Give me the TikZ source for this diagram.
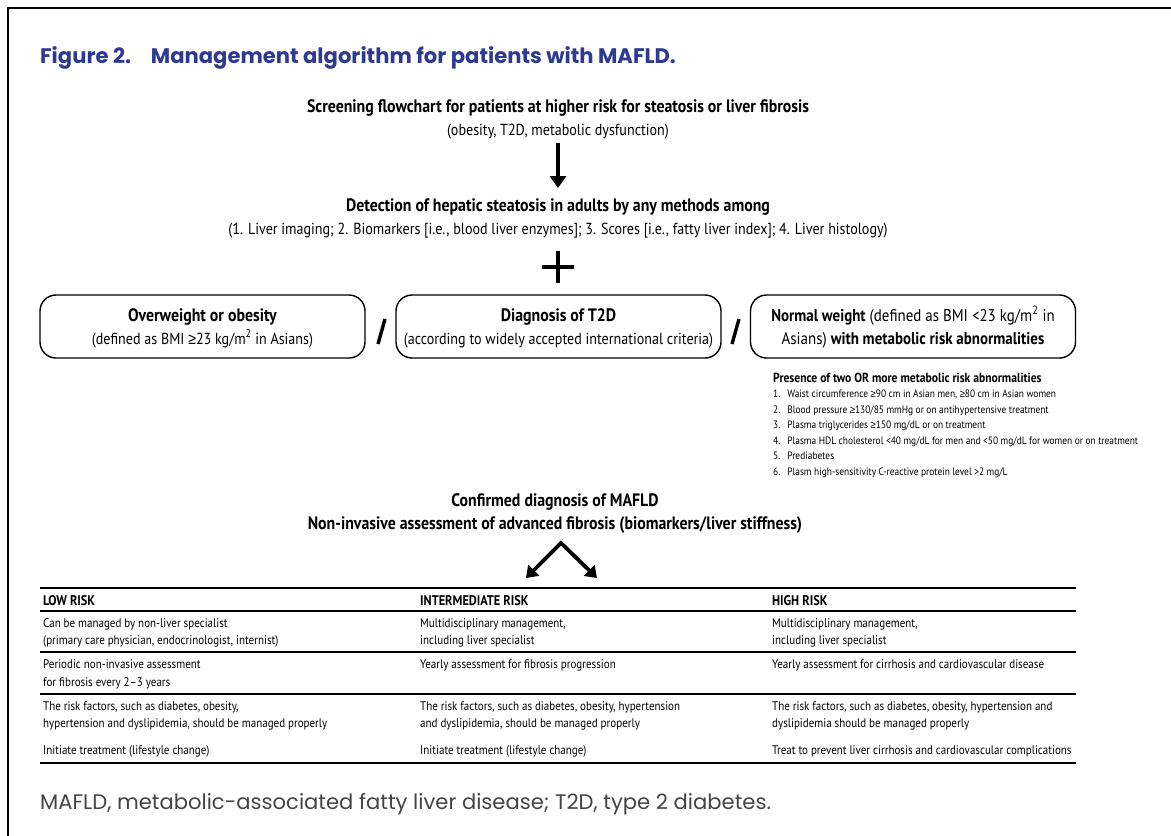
\documentclass[tikz,border=0pt]{standalone}
\usepackage{fontspec}
\usetikzlibrary{arrows.meta}
\setmainfont{PT Sans}[FakeStretch=0.88]
\newfontfamily\pop{Poppins}
\newfontfamily\symfont{Liberation Sans}[FakeStretch=0.88]
\newcommand{\mygeq}{{\symfont\char"2265}}
\definecolor{figblue}{HTML}{2E3A92}
\definecolor{capgray}{HTML}{444444}
\tikzset{
  txt/.style={inner sep=0pt, anchor=base, font=\fontsize{16}{19}\selectfont},
  btxt/.style={txt, font=\fontsize{18}{21}\selectfont\bfseries},
  small/.style={inner sep=0pt, anchor=base west, font=\fontsize{10.7}{13}\selectfont},
  tab/.style={inner sep=0pt, anchor=base west, font=\fontsize{12.5}{15}\selectfont},
  tabh/.style={tab, font=\fontsize{14}{16}\selectfont\bfseries},
  critbox/.style={draw, line width=1.4pt, rounded corners=16pt, minimum width=325pt, minimum height=63pt, inner sep=0pt},
  rule/.style={line width=1.4pt},
  bigarrow/.style={line width=3.6pt, -{Triangle[width=16pt,length=12pt]}},
  thick3/.style={line width=3.8pt},
}
\begin{document}
\begin{tikzpicture}[x=1pt,y=-1pt]
\useasboundingbox (0,0) rectangle (1171,836);
\draw[line width=1.5pt] (8,836) -- (8,8) -- (1171,8);

\node[inner sep=0pt, anchor=base west, font=\pop\fontsize{21.1}{25}\selectfont\bfseries, text=figblue] (title) at (40,63) {Figure 2.\hspace{20pt}Management algorithm for patients with MAFLD.};

\node[btxt] (scr1) at (558,112) {Screening flowchart for patients at higher risk for steatosis or liver fibrosis};
\node[txt] (scr2) at (558,135) {(obesity, T2D, metabolic dysfunction)};

\coordinate (a1s) at (558,143);
\coordinate (a1e) at (558,188);
\draw[bigarrow] (a1s) -- (a1e);

\node[btxt] (det1) at (558,211) {Detection of hepatic steatosis in adults by any methods among};
\node[txt] (det2) at (558,234) {(1. Liver imaging; 2. Biomarkers [i.e., blood liver enzymes]; 3. Scores [i.e., fatty liver index]; 4. Liver histology)};

\coordinate (plus) at (558,267);
\draw[thick3] ([xshift=-16pt]plus) -- ([xshift=16pt]plus);
\draw[thick3] ([yshift=-16pt]plus) -- ([yshift=16pt]plus);

\node[critbox] (b1) at (202.5,326.5) {};
\node[critbox] (b2) at (558.5,326.5) {};
\node[critbox] (b3) at (913,326.5) {};

\node[btxt] (b1t1) at (202.5,321) {Overweight or obesity};
\node[txt] (b1t2) at (202.5,344) {(defined as BMI \mygeq 23 kg/m\textsuperscript{2} in Asians)};
\node[btxt] (b2t1) at (558.5,321) {Diagnosis of T2D};
\node[txt] (b2t2) at (558.5,344) {(according to widely accepted international criteria)};
\node[txt, font=\fontsize{17}{20}\selectfont] (b3t1) at (913,321) {\textbf{Normal weight} (defined as BMI <23 kg/m\textsuperscript{2} in};
\node[txt, font=\fontsize{17}{20}\selectfont] (b3t2) at (913,344) {Asians) \textbf{with metabolic risk abnormalities}};

\coordinate (s1a) at (378,344);
\coordinate (s1b) at (385,319);
\draw[line width=3.4pt] (s1a) -- (s1b);
\coordinate (s2a) at (732,344);
\coordinate (s2b) at (739,319);
\draw[line width=3.4pt] (s2a) -- (s2b);

\node[small, font=\fontsize{13.2}{15}\selectfont\bfseries] (rh) at (773,382) {Presence of two OR more metabolic risk abnormalities};
\node[small] (r1) at (773,397.5) {1.\hspace{7pt}Waist circumference \mygeq 90 cm in Asian men, \mygeq 80 cm in Asian women};
\node[small] (r2) at (773,413) {2.\hspace{7pt}Blood pressure \mygeq 130/85 mmHg or on antihypertensive treatment};
\node[small] (r3) at (773,428.5) {3.\hspace{7pt}Plasma triglycerides \mygeq 150 mg/dL or on treatment};
\node[small] (r4) at (773,444) {4.\hspace{7pt}Plasma HDL cholesterol <40 mg/dL for men and <50 mg/dL for women or on treatment};
\node[small] (r5) at (773,459.5) {5.\hspace{7pt}Prediabetes};
\node[small] (r6) at (773,475) {6.\hspace{7pt}Plasm high-sensitivity C-reactive protein level >2 mg/L};

\node[btxt] (conf1) at (555,506) {Confirmed diagnosis of MAFLD};
\node[btxt] (conf2) at (555,529) {Non-invasive assessment of advanced fibrosis (biomarkers/liver stiffness)};

\coordinate (apex) at (561,543);
\coordinate (dl) at (526,578);
\coordinate (dr) at (597,578);
\draw[line width=3.8pt, line join=miter, {Triangle[width=15pt,length=11pt]}-{Triangle[width=15pt,length=11pt]}] (dl) -- (apex) -- (dr);

% table
\draw[rule, line width=1.8pt] (40,588) -- (1076,588);
\draw[rule] (40,611) -- (1076,611);
\draw[rule] (40,652) -- (1076,652);
\draw[rule] (40,694) -- (1076,694);
\draw[rule, line width=1.8pt] (40,763) -- (1076,763);

\node[tabh] (h1) at (43,605) {LOW RISK};
\node[tabh] (h2) at (420,605) {INTERMEDIATE RISK};
\node[tabh] (h3) at (772,605) {HIGH RISK};

\node[tab] (l1a) at (43,627) {Can be managed by non-liver specialist};
\node[tab] (l1b) at (43,644) {(primary care physician, endocrinologist, internist)};
\node[tab] (i1a) at (420,627) {Multidisciplinary management,};
\node[tab] (i1b) at (420,644) {including liver specialist};
\node[tab] (h1a) at (772,627) {Multidisciplinary management,};
\node[tab] (h1b) at (772,644) {including liver specialist};

\node[tab] (l2a) at (43,668) {Periodic non-invasive assessment};
\node[tab] (l2b) at (43,686) {for fibrosis every 2--3 years};
\node[tab] (i2a) at (420,668) {Yearly assessment for fibrosis progression};
\node[tab] (h2a) at (772,668) {Yearly assessment for cirrhosis and cardiovascular disease};

\node[tab] (l3a) at (43,710) {The risk factors, such as diabetes, obesity,};
\node[tab] (l3b) at (43,727) {hypertension and dyslipidemia, should be managed properly};
\node[tab] (i3a) at (420,710) {The risk factors, such as diabetes, obesity, hypertension};
\node[tab] (i3b) at (420,727) {and dyslipidemia, should be managed properly};
\node[tab] (h3a) at (772,710) {The risk factors, such as diabetes, obesity, hypertension and};
\node[tab] (h3b) at (772,727) {dyslipidemia should be managed properly};

\node[tab] (l4) at (43,754) {Initiate treatment (lifestyle change)};
\node[tab] (i4) at (420,754) {Initiate treatment (lifestyle change)};
\node[tab] (h4) at (772,754) {Treat to prevent liver cirrhosis and cardiovascular complications};

\node[inner sep=0pt, anchor=base west, font=\pop\fontsize{21.1}{24}\selectfont, text=capgray] (foot) at (40,809) {MAFLD, metabolic-associated fatty liver disease; T2D, type 2 diabetes.};
\end{tikzpicture}
\end{document}
